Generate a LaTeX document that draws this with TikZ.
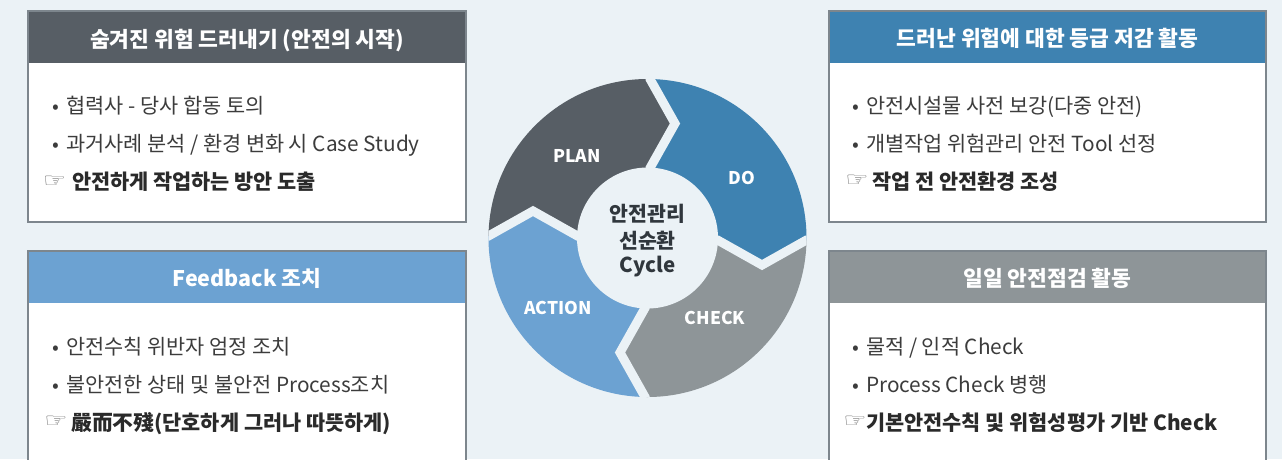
\documentclass[tikz,border=0pt]{standalone}
\usepackage{fontspec}
\usepackage{graphicx}
\setmainfont{Noto Sans CJK KR}
\newfontfamily\symfont{DejaVu Sans}
\definecolor{bgc}{HTML}{EBF2F6}
\definecolor{plan}{HTML}{575E65}
\definecolor{doc}{HTML}{3E82B1}
\definecolor{checkc}{HTML}{8E9598}
\definecolor{actc}{HTML}{6CA2D2}
\definecolor{boxline}{HTML}{7D868D}
\definecolor{txt}{HTML}{3C3C3C}
\definecolor{btxt}{HTML}{2A2A2A}
\definecolor{ctxt}{HTML}{30373D}
\newcommand{\myhand}{\scalebox{1.3}[1]{☞}}
\begin{document}
\begin{tikzpicture}[x=1pt,y=-1pt,
  hd/.style={anchor=base, text=white, font=\fontsize{21.5}{25}\selectfont\bfseries, inner sep=0pt},
  body/.style={anchor=base west, text=txt, font=\fontsize{20.8}{24}\selectfont, inner sep=0pt},
  bold/.style={anchor=base west, text=btxt, font=\fontsize{20.8}{24}\selectfont\bfseries, inner sep=0pt},
  bul/.style={anchor=base, text=txt, font=\fontsize{20}{24}\selectfont, inner sep=0pt},
  hand/.style={anchor=center, text=txt!70, font=\symfont\fontsize{20}{22}\selectfont, inner sep=0pt},
  boxl/.style={draw=boxline, line width=1.5pt},
  gap/.style={draw=bgc, line width=9pt, line join=miter, line cap=butt},
  lbl/.style={anchor=center, text=white, font=\fontsize{17.5}{20}\selectfont\bfseries, inner sep=0pt},
  ctr/.style={anchor=base, text=ctxt, font=\fontsize{20.5}{24}\selectfont\bfseries, inner sep=0pt}]
\useasboundingbox (0,0) rectangle (1282,459);
\fill[bgc] (0,0) rectangle (1282,459);

% ---- boxes ----
\fill[white] (28,11) rectangle (466,222);
\fill[plan] (28,11) rectangle (466,63);
\draw[boxl] (28,11) rectangle (466,222);

\fill[white] (829,11) rectangle (1266,222);
\fill[doc] (829,11) rectangle (1266,63);
\draw[boxl] (829,11) rectangle (1266,222);

\fill[white] (28,251) rectangle (466,462);
\fill[actc] (28,251) rectangle (466,303);
\draw[boxl] (28,462) -- (28,251) -- (466,251) -- (466,462);

\fill[white] (829,251) rectangle (1266,462);
\fill[checkc] (829,251) rectangle (1266,303);
\draw[boxl] (829,462) -- (829,251) -- (1266,251) -- (1266,462);

% ---- headers ----
\node[hd] (h1) at (247,47) {숨겨진 위험 드러내기 (안전의 시작)};
\node[hd] (h2) at (1047.5,46) {드러난 위험에 대한 등급 저감 활동};
\node[hd] (h3) at (247,286) {Feedback 조치};
\node[hd] (h4) at (1047.5,286) {일일 안전점검 활동};

% ---- top-left body ----
\node[bul] (b11) at (56,113) {•};
\node[body] (l11) at (66,113) {협력사 - 당사 합동 토의};
\node[bul] (b12) at (56,151) {•};
\node[body] (l12) at (66,151) {과거사례 분석 / 환경 변화 시 Case Study};
\node[hand] (p1) at (54.5,181.5) {\myhand};
\node[bold] (l13) at (72,189) {안전하게 작업하는 방안 도출};

% ---- top-right body ----
\node[bul] (b21) at (856,113) {•};
\node[body] (l21) at (866,113) {안전시설물 사전 보강(다중 안전)};
\node[bul] (b22) at (856,151) {•};
\node[body] (l22) at (866,151) {개별작업 위험관리 안전 Tool 선정};
\node[hand] (p2) at (857,181) {\myhand};
\node[bold] (l23) at (872,189) {작업 전 안전환경 조성};

% ---- bottom-left body ----
\node[bul] (b31) at (56,354) {•};
\node[body] (l31) at (66,354) {안전수칙 위반자 엄정 조치};
\node[bul] (b32) at (56,392) {•};
\node[body] (l32) at (66,392) {불안전한 상태 및 불안전 Process조치};
\node[hand] (p3) at (56,421.5) {\myhand};
\node[bold] (l33) at (71,430) {嚴而不殘(단호하게 그러나 따뜻하게)};

% ---- bottom-right body ----
\node[bul] (b41) at (856,354) {•};
\node[body] (l41) at (866,354) {물적 / 인적 Check};
\node[bul] (b42) at (856,392) {•};
\node[body] (l42) at (866,392) {Process Check 병행};
\node[hand] (p4) at (855,421.5) {\myhand};
\node[bold] (l43) at (866,430) {기본안전수칙 및 위험성평가 기반 Check};

% ---- cycle ----
\coordinate (C) at (647.5,238);
\begin{scope}
\clip (C) circle[radius=159pt];
\fill[plan] (650,236) -- (577.5,236) -- (533,211) -- (488.5,236) -- (460,236) -- (460,60)
  -- (650,60) -- (650,79) -- (675,123.5) -- (650,168) -- cycle;
\fill[doc] (650,168) -- (675,123.5) -- (650,79) -- (650,60) -- (835,60) -- (835,240)
  -- (806.5,240) -- (762,265) -- (717.5,240) -- (650,240) -- cycle;
\fill[checkc] (717.5,240) -- (762,265) -- (806.5,240) -- (835,240) -- (835,420)
  -- (645,420) -- (645,397) -- (620,352.5) -- (645,308) -- (645,240) -- cycle;
\fill[actc] (645,308) -- (620,352.5) -- (645,397) -- (645,420) -- (460,420)
  -- (460,236) -- (488.5,236) -- (533,211) -- (577.5,236) -- (645,236) -- cycle;
\draw[gap] (650,55) -- (650,79) -- (675,123.5) -- (650,168) -- (650,190);
\draw[gap] (830,240) -- (806.5,240) -- (762,265) -- (717.5,240) -- (700,240);
\draw[gap] (645,420) -- (645,397) -- (620,352.5) -- (645,308) -- (645,290);
\draw[gap] (465,236) -- (488.5,236) -- (533,211) -- (577.5,236) -- (595,236);
\end{scope}
\fill[bgc] (C) circle[radius=70.5pt];

\node[lbl] (plan) at (577,156) {PLAN};
\node[lbl] (do) at (742,178) {DO};
\node[lbl] (check) at (715,318) {CHECK};
\node[lbl] (action) at (558,308) {ACTION};

\node[ctr] (c1) at (647.5,221) {안전관리};
\node[ctr] (c2) at (647.5,248) {선순환};
\node[ctr] (c3) at (647.5,272) {Cycle};
\end{tikzpicture}
\end{document}
